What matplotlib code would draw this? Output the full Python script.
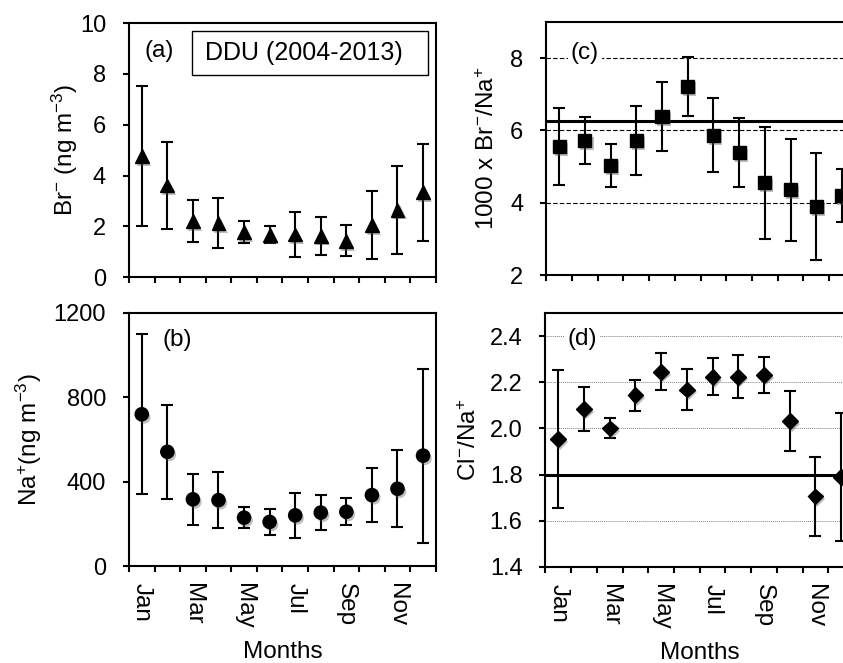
import numpy as np
import matplotlib.pyplot as plt
from matplotlib import patheffects as pe
from matplotlib.patches import Rectangle

plt.rcParams['font.family'] = ['Liberation Sans', 'DejaVu Sans']
plt.rcParams['mathtext.default'] = 'regular'
plt.rcParams['font.size'] = 17.5

months = ['Jan', 'Feb', 'Mar', 'Apr', 'May', 'Jun',
          'Jul', 'Aug', 'Sep', 'Oct', 'Nov', 'Dec']

# monthly means and standard deviations, DDU 2004-2013
br_mean = [4.77, 3.61, 2.21, 2.12, 1.77, 1.67, 1.68, 1.63, 1.43, 2.05, 2.66, 3.34]
br_sd = [2.76, 1.70, 0.84, 0.98, 0.44, 0.34, 0.89, 0.75, 0.61, 1.34, 1.73, 1.91]

na_mean = [720, 542, 317, 313, 230, 210, 241, 254, 258, 337, 367, 524]
na_sd = [380, 223, 120, 131, 50, 63, 107, 83, 64, 127, 182, 412]

brna_mean = [5.55, 5.72, 5.04, 5.72, 6.38, 7.22, 5.87, 5.39, 4.55, 4.36, 3.89, 4.20]
brna_sd = [1.07, 0.66, 0.59, 0.96, 0.96, 0.82, 1.02, 0.94, 1.55, 1.41, 1.48, 0.73]
brna_sea = 6.25

clna_mean = [1.953, 2.085, 2.0, 2.143, 2.245, 2.168, 2.223, 2.224, 2.232, 2.031, 1.705, 1.79]
clna_sd = [0.30, 0.096, 0.043, 0.067, 0.08, 0.088, 0.08, 0.094, 0.078, 0.129, 0.171, 0.277]
clna_sea = 1.8

x = np.arange(12) + 0.5

fig = plt.figure(figsize=(8.43, 6.63), dpi=100)
ax_a = fig.add_axes([0.153, 0.582, 0.364, 0.383])
ax_b = fig.add_axes([0.153, 0.146, 0.364, 0.382])
ax_c = fig.add_axes([0.648, 0.585, 0.366, 0.382])
ax_d = fig.add_axes([0.647, 0.145, 0.366, 0.383])

shadow = [pe.SimplePatchShadow(offset=(1.5, -2), shadow_rgbFace='0.35', alpha=0.4), pe.Normal()]


def setup(ax, ylim, yticks, labels):
    ax.set_xlim(0, 12)
    ax.set_ylim(*ylim)
    ax.set_yticks(yticks)
    ax.set_xticks(np.arange(13))
    ax.set_xticklabels([])
    ax.set_xticks(x[::2], minor=True)
    if labels:
        ax.set_xticklabels(months[::2], minor=True, rotation=-90, va='top', ha='center')
        ax.set_xlabel('Months', labelpad=9)
    else:
        ax.set_xticklabels([], minor=True)
    ax.tick_params(which='major', direction='out', length=4, width=1.5, top=False, right=False)
    ax.tick_params(axis='y', pad=12.5, labelsize=17)
    ax.tick_params(which='minor', length=0, pad=12)
    for s in ax.spines.values():
        s.set_linewidth(1.5)


def plot(ax, mean, sd, fmt, ms):
    eb = ax.errorbar(x, mean, yerr=sd, fmt=fmt, color='k', ms=ms, capsize=4.5,
                     elinewidth=1.5, capthick=1.5, zorder=4)
    eb[0].set_path_effects(shadow)


# (a) Br-
setup(ax_a, (0, 10), [0, 2, 4, 6, 8, 10], False)
plot(ax_a, br_mean, br_sd, '^', 10)
ax_a.set_ylabel('Br$^{-}$ (ng m$^{-3}$)', labelpad=0)
ax_a.text(1.2, 8.9, '(a)', ha='center', va='center')
ax_a.add_patch(Rectangle((2.46, 7.95), 9.22, 1.74, fill=False, lw=1.0, ec='k'))
ax_a.text(2.97, 8.82, 'DDU (2004-2013)', ha='left', va='center', fontsize=18)

# (b) Na+
setup(ax_b, (0, 1200), [0, 400, 800, 1200], True)
plot(ax_b, na_mean, na_sd, 'o', 9.5)
ax_b.set_ylabel('Na$^{+}$(ng m$^{-3}$)', labelpad=7)
ax_b.text(1.9, 1072, '(b)', ha='center', va='center')

# (c) Br-/Na+
setup(ax_c, (2, 9), [2, 4, 6, 8], False)
for yy in (4, 6, 8):
    ax_c.axhline(yy, color='k', lw=0.8, ls=(0, (4, 2)), zorder=1)
ax_c.axhline(brna_sea, color='k', lw=2.2, zorder=2)
plot(ax_c, brna_mean, brna_sd, 's', 9.5)
ax_c.set_ylabel('1000 x Br$^{-}$/Na$^{+}$', labelpad=8)
ax_c.text(1.5, 8.15, '(c)', ha='center', va='center', zorder=3,
          bbox=dict(fc='white', ec='none', pad=2))

# (d) Cl-/Na+
setup(ax_d, (1.4, 2.5), [1.4, 1.6, 1.8, 2.0, 2.2, 2.4], True)
ax_d.set_yticklabels(['1.4', '1.6', '1.8', '2.0', '2.2', '2.4'])
for yy in (1.6, 2.0, 2.2, 2.4):
    ax_d.axhline(yy, color='0.5', lw=0.7, ls=(0, (1, 1)), zorder=1)
ax_d.axhline(clna_sea, color='k', lw=2.2, zorder=2)
plot(ax_d, clna_mean, clna_sd, 'D', 8)
ax_d.set_ylabel('Cl$^{-}$/Na$^{+}$', labelpad=6)
ax_d.text(1.45, 2.385, '(d)', ha='center', va='center', zorder=3,
          bbox=dict(fc='white', ec='none', pad=2))

fig.savefig('out.png', dpi=100)
